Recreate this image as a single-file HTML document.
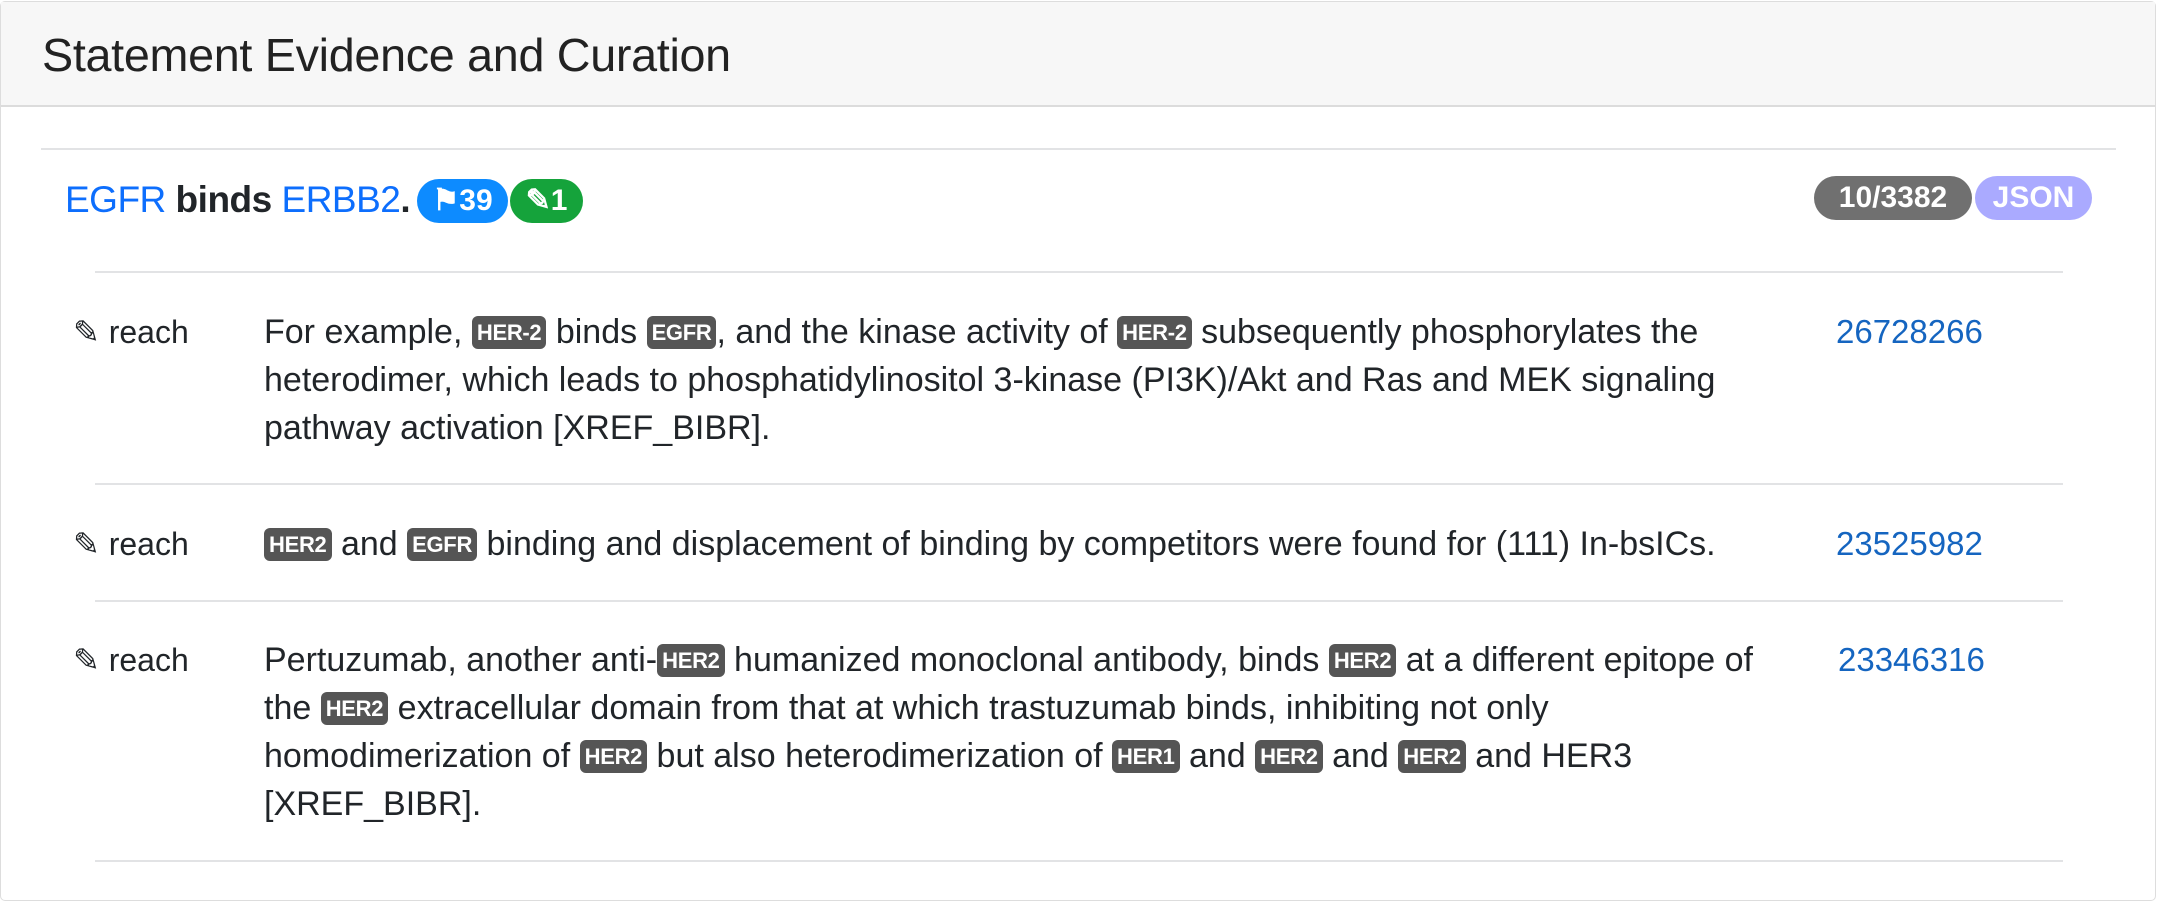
<!DOCTYPE html>
<html><head><meta charset="utf-8"><style>
*{box-sizing:border-box;margin:0;padding:0}
body{width:2158px;height:872px;background:#fff;font-family:"Liberation Sans",sans-serif;color:#212529;position:relative;overflow:hidden}
.card{position:absolute;left:0;top:1px;width:2156px;height:900px;border:1px solid #ddd;border-radius:5px}
.hdr{position:absolute;left:0;top:0;width:100%;height:105px;background:#f7f7f7;border-bottom:2px solid #dcdcdc}
.hdr h1{position:absolute;left:41px;top:26px;font-size:46.7px;font-weight:normal;color:#222;letter-spacing:-0.3px}
.hr{position:absolute;height:2px;background:#e2e3e5}
.title{position:absolute;left:65px;top:178px;font-size:37px;font-weight:bold;white-space:nowrap;line-height:44px;letter-spacing:-0.5px}
.title a{color:#0d6efd;text-decoration:none;font-weight:normal}
.pill{position:absolute;height:44px;border-radius:22px;color:#fff;font-weight:bold;font-size:30px;line-height:44px;text-align:center}
.src{position:absolute;left:73px;font-size:32px;white-space:nowrap}
.txt{position:absolute;left:264px;font-size:34px;line-height:48px;white-space:nowrap;letter-spacing:0px}
.pm{position:absolute;font-size:33px;color:#1565c0;text-decoration:none}
.tag{display:inline-block;background:#555;color:#fff;font-weight:bold;font-size:22px;line-height:33px;padding:0 5px;border-radius:6px;vertical-align:3px;letter-spacing:-0.3px}
</style></head><body>
<div class="card">
<div class="hdr"><h1>Statement Evidence and Curation</h1></div>
</div>
<div class="hr" style="left:41px;top:148px;width:2075px"></div>
<div class="title"><a href="#">EGFR</a> binds <a href="#">ERBB2</a>.</div>
<div class="pill" style="left:417px;top:179px;width:91px;background:#0d8bff">⚑39</div>
<div class="pill" style="left:510px;top:179px;width:73px;background:#15a33b">✎1</div>
<div class="pill" style="left:1814px;top:176px;width:158px;background:#707070">10/3382</div>
<div class="pill" style="left:1975px;top:176px;width:117px;background:#aaaaff">JSON</div>
<div class="hr" style="left:95px;top:271px;width:1968px"></div>

<div class="src" style="top:313px">✎ reach</div>
<div class="txt" style="top:308px">For example, <span class="tag">HER-2</span> binds <span class="tag">EGFR</span>, and the kinase activity of <span class="tag">HER-2</span> subsequently phosphorylates the<br>heterodimer, which leads to phosphatidylinositol 3-kinase (PI3K)/Akt and Ras and MEK signaling<br>pathway activation [XREF_BIBR].</div>
<a class="pm" href="#" style="left:1836px;top:313px">26728266</a>
<div class="hr" style="left:95px;top:483px;width:1968px"></div>

<div class="src" style="top:525px">✎ reach</div>
<div class="txt" style="top:520px"><span class="tag">HER2</span> and <span class="tag">EGFR</span> binding and displacement of binding by competitors were found for (111) In-bsICs.</div>
<a class="pm" href="#" style="left:1836px;top:525px">23525982</a>
<div class="hr" style="left:95px;top:600px;width:1968px"></div>

<div class="src" style="top:641px">✎ reach</div>
<div class="txt" style="top:636px">Pertuzumab, another anti-<span class="tag">HER2</span> humanized monoclonal antibody, binds <span class="tag">HER2</span> at a different epitope of<br>the <span class="tag">HER2</span> extracellular domain from that at which trastuzumab binds, inhibiting not only<br>homodimerization of <span class="tag">HER2</span> but also heterodimerization of <span class="tag">HER1</span> and <span class="tag">HER2</span> and <span class="tag">HER2</span> and HER3<br>[XREF_BIBR].</div>
<a class="pm" href="#" style="left:1838px;top:641px">23346316</a>
<div class="hr" style="left:95px;top:860px;width:1968px"></div>
</body></html>
